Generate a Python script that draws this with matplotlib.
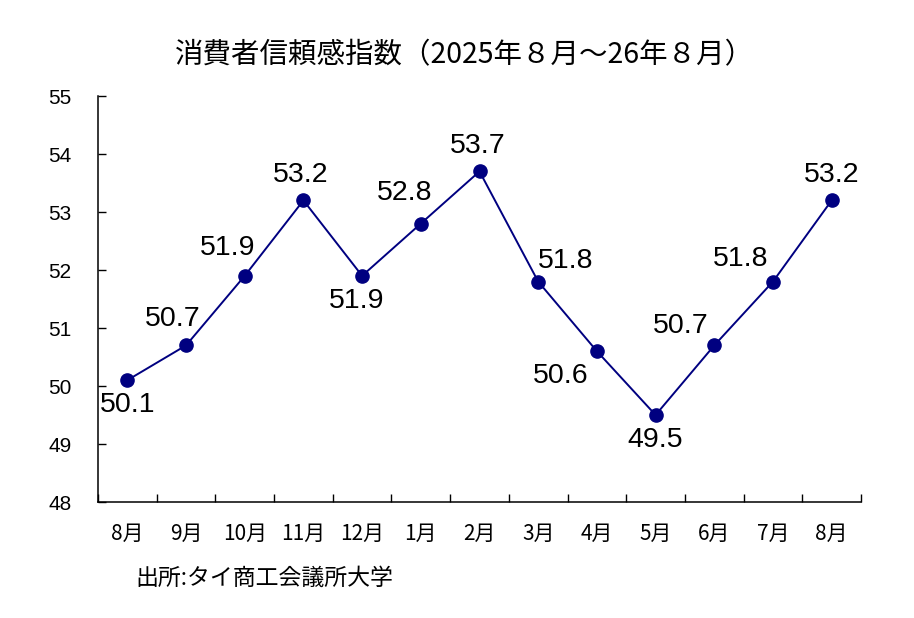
import numpy as np
import matplotlib
matplotlib.use("Agg")
import matplotlib.pyplot as plt

plt.rcParams['font.family'] = ['Noto Sans CJK JP', 'DejaVu Sans']

months = ['8月', '9月', '10月', '11月', '12月', '1月', '2月', '3月',
          '4月', '5月', '6月', '7月', '8月']
values = [50.1, 50.7, 51.9, 53.2, 51.9, 52.8, 53.7, 51.8, 50.6, 49.5, 50.7, 51.8, 53.2]
# label offsets in pixels (dx, dy up)
label_offsets = [(0, -25), (-13, 26), (-17, 28), (-3, 25), (-5, -25), (-16, 31), (-2, 25),
                 (27, 21), (-36, -25), (0, -25), (-34, 19), (-32, 23), (0, 25)]

title = '消費者信頼感指数（2025年８月～26年８月）'
source = '出所:タイ商工会議所大学'

fig = plt.figure(figsize=(9.14, 6.18), dpi=100)
ax = fig.add_axes([98 / 914, 116 / 618, 763 / 914, 406 / 618])

x = np.arange(len(values))
ax.plot(x, values, color='#000080', lw=1.4, marker='o', ms=9.5,
        mfc='#000080', mec='#000080', zorder=3)

px = 72 / 100
for xi, v, (dx, dy) in zip(x, values, label_offsets):
    ax.annotate(f'{v:.1f}', (xi, v), xytext=(dx * px, dy * px), textcoords='offset points',
                ha='center', va='center', fontsize=20.5, family='Liberation Sans')

ax.set_xlim(-0.5, len(values) - 0.5)
ax.set_ylim(48, 55)
ax.set_yticks(range(48, 56))
ax.set_yticklabels([str(t) for t in range(48, 56)], family='Liberation Sans', fontsize=15)
ax.tick_params(axis='y', direction='in', length=6, pad=19, width=1)

ax.set_xticks(np.arange(len(values) + 1) - 0.5)
ax.set_xticklabels([])
ax.tick_params(axis='x', which='major', direction='in', length=6, width=1)
ax.set_xticks(x, minor=True)
ax.set_xticklabels(months, minor=True, fontsize=15)
ax.tick_params(axis='x', which='minor', length=0, pad=15)

for s in ['top', 'right']:
    ax.spines[s].set_visible(False)
for s in ['left', 'bottom']:
    ax.spines[s].set_linewidth(1.1)

fig.text(465 / 914, 1 - 55 / 618, title, ha='center', va='center', fontsize=20.5)
fig.text(135 / 914, 1 - 578 / 618, source, ha='left', va='center', fontsize=16.5)

fig.savefig('out.png', dpi=100)
